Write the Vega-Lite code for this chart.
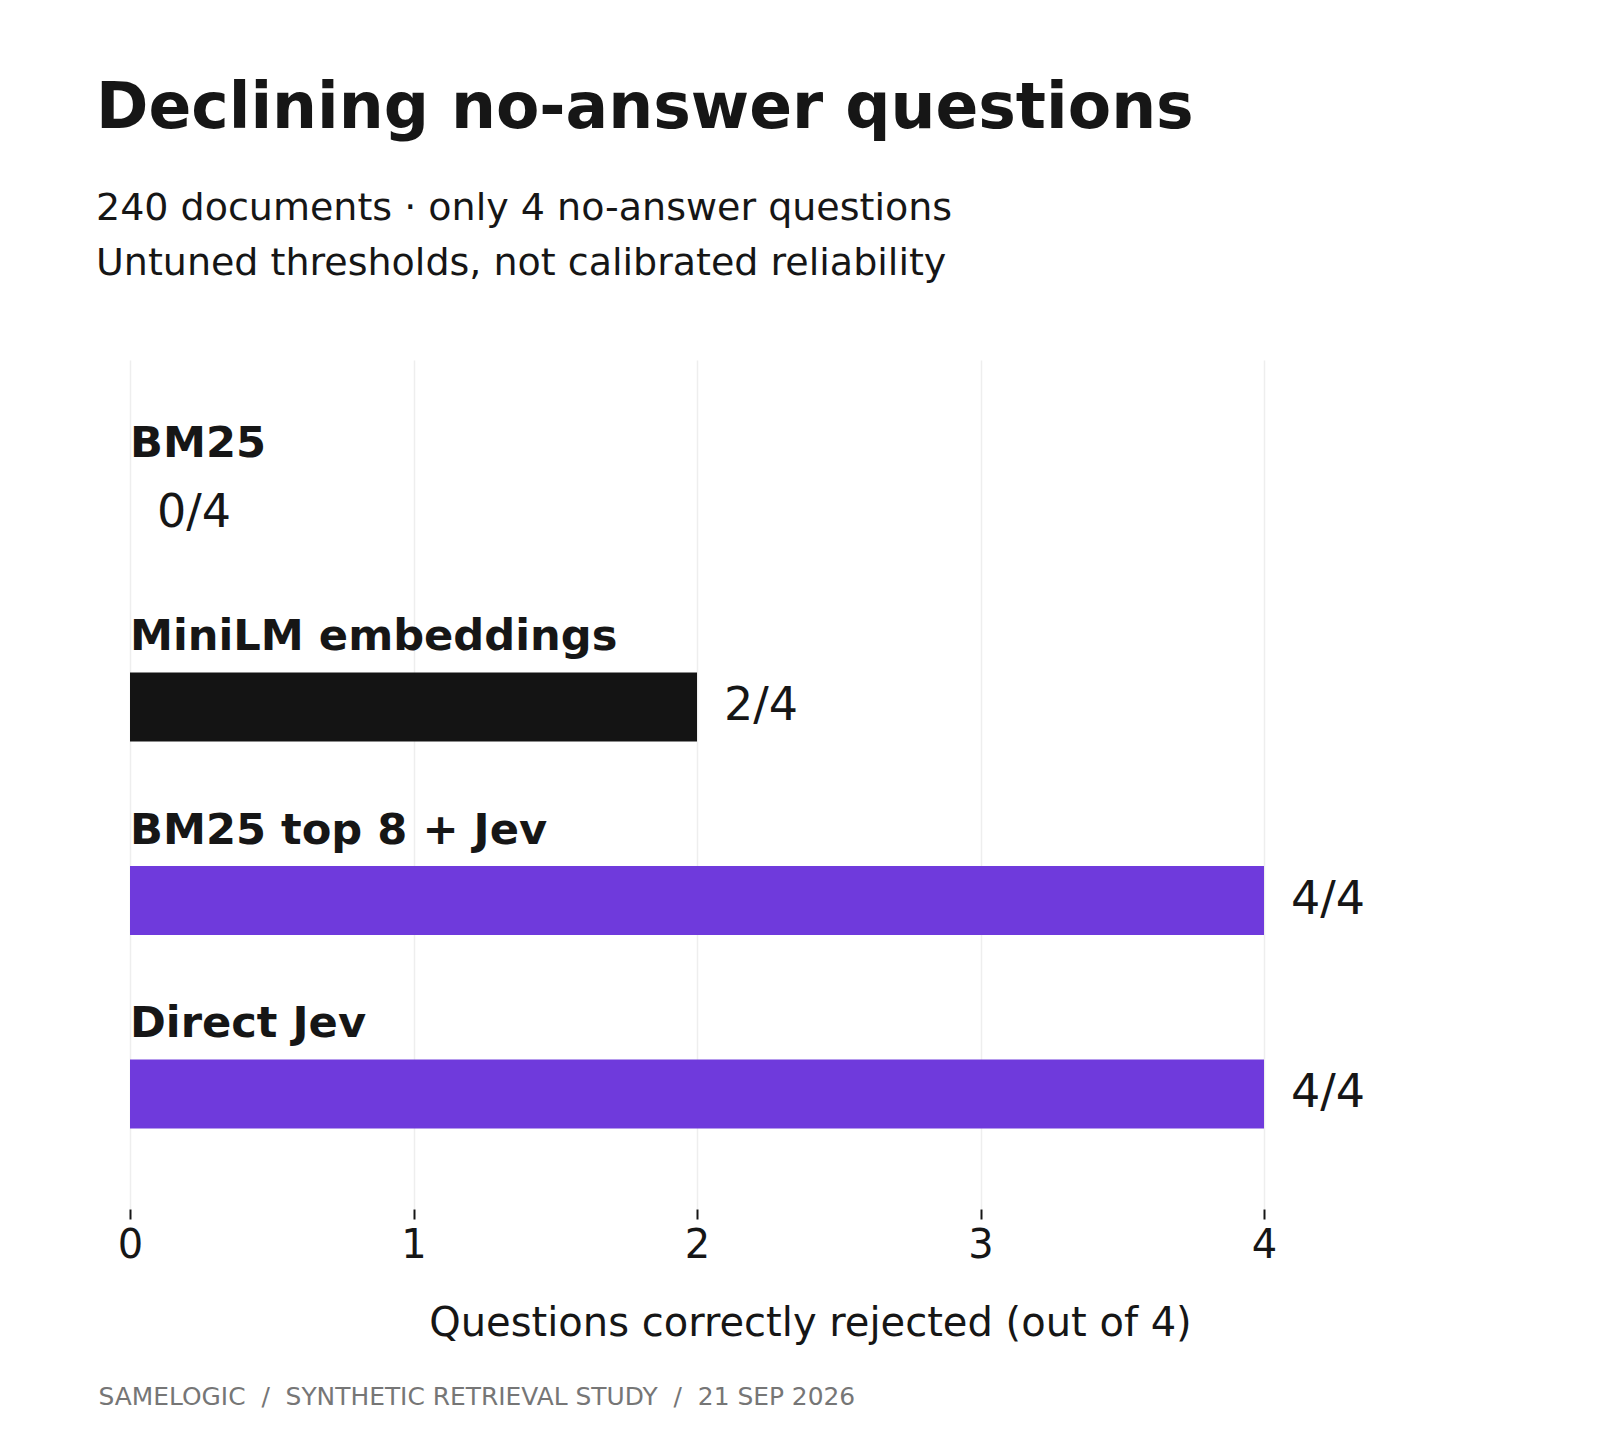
{
  "$schema": "https://vega.github.io/schema/vega-lite/v6.json",
  "width": 1134,
  "height": 849,
  "autosize": {"type": "none"},
  "padding": {"left": 130, "top": 360, "right": 356, "bottom": 231},
  "background": "white",
  "title": {
    "text": "Declining no-answer questions",
    "subtitle": ["240 documents · only 4 no-answer questions", "Untuned thresholds, not calibrated reliability"],
    "anchor": "start",
    "frame": "group",
    "dx": -34,
    "offset": 76,
    "font": "DejaVu Sans",
    "fontSize": 63.2,
    "fontWeight": "bold",
    "color": "#161616",
    "subtitleFont": "DejaVu Sans",
    "subtitleFontSize": 38,
    "subtitleColor": "#161616",
    "subtitleLineHeight": 55,
    "subtitlePadding": 49
  },
  "data": {
    "values": [
      {"method": "BM25", "rejected": 0, "label": "0/4", "family": "baseline"},
      {"method": "MiniLM embeddings", "rejected": 2, "label": "2/4", "family": "baseline"},
      {"method": "BM25 top 8 + Jev", "rejected": 4, "label": "4/4", "family": "jev"},
      {"method": "Direct Jev", "rejected": 4, "label": "4/4", "family": "jev"}
    ]
  },
  "encoding": {
    "y": {
      "field": "method",
      "type": "nominal",
      "sort": null,
      "axis": null,
      "scale": {"paddingInner": 0.6434, "paddingOuter": 0.5155, "align": 0.5965, "round": false}
    }
  },
  "layer": [
    {
      "mark": {"type": "bar"},
      "encoding": {
        "x": {
          "field": "rejected",
          "type": "quantitative",
          "scale": {"domain": [0, 4], "nice": false, "zero": true},
          "axis": {
            "orient": "bottom",
            "title": "Questions correctly rejected (out of 4)",
            "values": [0, 1, 2, 3, 4],
            "format": "d",
            "grid": true,
            "gridColor": "#eeeeee",
            "gridWidth": 1.5,
            "domain": false,
            "ticks": true,
            "tickColor": "#161616",
            "tickSize": 10,
            "tickWidth": 2,
            "labelFont": "DejaVu Sans",
            "labelFontSize": 40,
            "labelColor": "#161616",
            "labelPadding": 6,
            "labelFlush": false,
            "labelOverlap": false,
            "titleFont": "DejaVu Sans",
            "titleFontSize": 40,
            "titleFontWeight": "normal",
            "titleColor": "#161616",
            "titleX": 680,
            "titleY": 126,
            "titleAlign": "center",
            "titleBaseline": "alphabetic"
          }
        },
        "color": {
          "field": "family",
          "type": "nominal",
          "scale": {"domain": ["baseline", "jev"], "range": ["#141414", "#6f3adc"]},
          "legend": null
        }
      }
    },
    {
      "mark": {"type": "text", "align": "left", "baseline": "middle", "dx": 27, "dy": -1, "font": "DejaVu Sans", "fontSize": 46, "color": "#161616"},
      "encoding": {
        "x": {"field": "rejected", "type": "quantitative", "axis": null},
        "text": {"field": "label", "type": "nominal"}
      }
    },
    {
      "mark": {"type": "text", "align": "left", "baseline": "alphabetic", "dx": 0, "dy": -57, "font": "DejaVu Sans", "fontSize": 43.2, "fontWeight": "bold", "color": "#161616"},
      "encoding": {
        "x": {
          "datum": 0,
          "type": "quantitative",
          "axis": {
            "orient": "bottom",
            "title": "SAMELOGIC \u00a0/\u00a0 SYNTHETIC RETRIEVAL STUDY \u00a0/\u00a0 21 SEP 2026",
            "grid": false,
            "ticks": false,
            "labels": false,
            "domain": false,
            "titleFont": "DejaVu Sans",
            "titleFontSize": 24.9,
            "titleFontWeight": "normal",
            "titleColor": "#767676",
            "titleX": -32,
            "titleY": 195,
            "titleAlign": "left",
            "titleAnchor": "start",
            "titleBaseline": "alphabetic"
          }
        },
        "text": {"field": "method", "type": "nominal"}
      }
    }
  ],
  "resolve": {"axis": {"x": "independent"}},
  "config": {
    "view": {"stroke": null},
    "font": "DejaVu Sans"
  }
}
